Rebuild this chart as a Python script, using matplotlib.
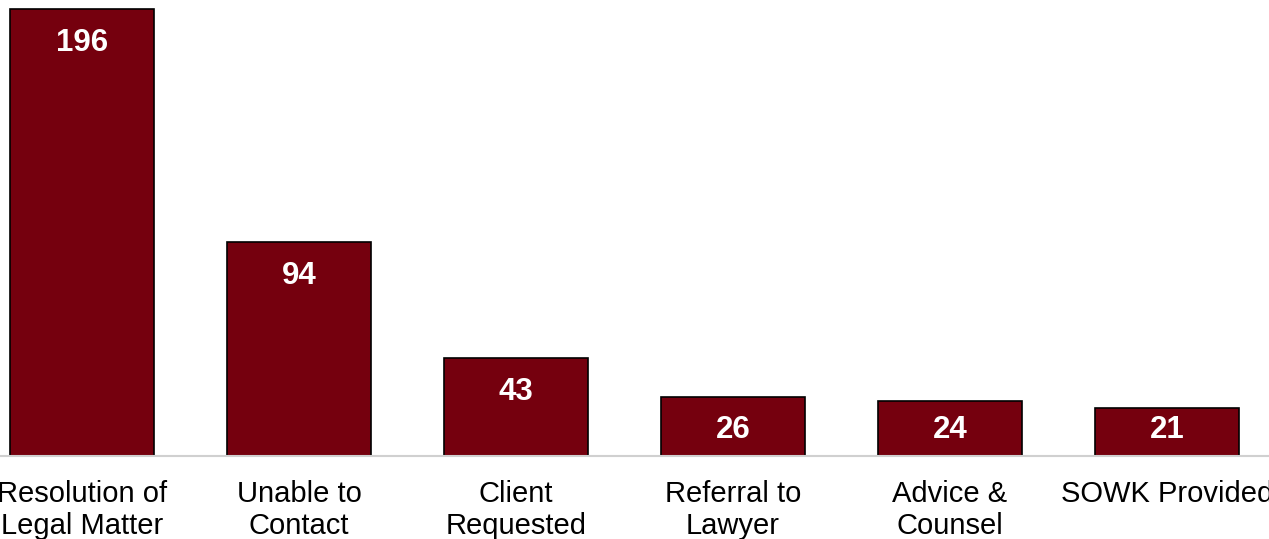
import matplotlib.pyplot as plt
import numpy as np

plt.rcParams['font.family'] = ['Liberation Sans', 'DejaVu Sans']

categories = ["Resolution of\nLegal Matter", "Unable to\nContact", "Client\nRequested",
              "Referral to\nLawyer", "Advice &\nCounsel", "SOWK Provided"]
counts = [196, 94, 43, 26, 24, 21]

W, H = 1269, 539
fig = plt.figure(figsize=(W / 100, H / 100), dpi=100)
# axes slightly wider than the figure so the outer labels get clipped like the original
ax = fig.add_axes([-26.5 / W, (H - 456) / H, 1302 / W, 456 / H])

x = np.arange(len(categories))
bars = ax.bar(x, counts, width=0.667, color="#75000E", edgecolor="black", linewidth=1.2, zorder=2)

for b, v in zip(bars, counts):
    ax.text(b.get_x() + b.get_width() / 2, max(v - 14.9, 11.4), str(v), ha="center", va="center",
            color="white", fontsize=22.5, fontweight="bold")

ax.set_xlim(-0.5, len(categories) - 0.5)
ax.set_ylim(0, 200)
ax.set_xticks(x)
ax.set_xticklabels(categories, fontsize=21, linespacing=1.2)
ax.tick_params(axis="x", length=0, pad=17)
ax.set_yticks([])
for s in ["top", "right", "left"]:
    ax.spines[s].set_visible(False)
ax.spines["bottom"].set_color("#D0D0D0")
ax.spines["bottom"].set_linewidth(1.5)

fig.savefig("out.png", dpi=100)
